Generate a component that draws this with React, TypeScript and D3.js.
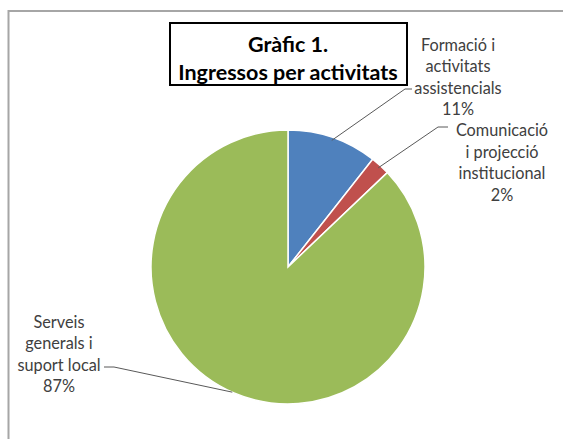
import React from "react";
import * as d3 from "d3";

const categories = [
  ["Formació i", "activitats", "assistencials", "11%"],
  ["Comunicació", "i projecció", "institucional", "2%"],
  ["Serveis", "generals i", "suport local", "87%"],
];
const values = [10.6, 2.3, 87.1];
const colors = ["#4F81BD", "#C0504D", "#9BBB59"];
const titleLines = ["Gràfic 1.", "Ingressos per activitats"];

const W = 563;
const H = 439;
const cx = 288;
const cy = 267;
const R = 137;

const labelPos = [
  { x: 458, y: 44, lx: 412, ly: 89, ex: 405, dy: 21.5 },
  { x: 502, y: 129.5, lx: 448, ly: 127, ex: 438, dy: 21.5 },
  { x: 59, y: 321, lx: 104, ly: 367, ex: 114, dy: 21.5 },
];

export default function App() {
  const pie = d3.pie<number>().sort(null).startAngle(0).endAngle(2 * Math.PI);
  const arcs = pie(values);
  const arc = d3.arc<d3.PieArcDatum<number>>().innerRadius(0).outerRadius(R);
  const font = "Lato, 'Open Sans', sans-serif";
  return (
    <svg width={W} height={H} style={{ position: "absolute", left: 0, top: 0 }}>
      <rect x={0} y={0} width={W} height={H} fill="#fff" />
      <rect x={8.5} y={11} width={W + 20} height={H + 20} fill="none" stroke="#a6a6a6" strokeWidth={2} />
      <g transform={`translate(${cx},${cy})`}>
        {arcs.map((a, i) => (
          <path key={i} d={arc(a) || ""} fill={colors[i]} stroke="#fff" strokeWidth={1.5} />
        ))}
      </g>
      {arcs.map((a, i) => {
        const mid = (a.startAngle + a.endAngle) / 2;
        const p = labelPos[i];
        let sx: number, sy: number;
        if (i === 2) {
          const ang = (204 * Math.PI) / 180;
          sx = cx + R * Math.sin(ang);
          sy = cy - R * Math.cos(ang);
        } else {
          sx = cx + (R - 3) * Math.sin(mid);
          sy = cy - (R - 3) * Math.cos(mid);
        }
        return (
          <g key={i}>
            <polyline
              points={`${sx},${sy} ${p.ex},${p.ly} ${p.lx},${p.ly}`}
              fill="none"
              stroke="#595959"
              strokeWidth={1}
            />
            {categories[i].map((t, j) => (
              <text
                key={j}
                x={p.x}
                y={p.y + j * p.dy}
                textAnchor="middle"
                dominantBaseline="central"
                fontFamily={font}
                fontSize={16.3}
                fill="#404040"
              >
                {t}
              </text>
            ))}
          </g>
        );
      })}
      <rect x={170} y={23} width={237} height={62} fill="#fff" stroke="#000" strokeWidth={2} />
      {titleLines.map((t, j) => (
        <text
          key={j}
          x={288}
          y={44 + j * 28}
          textAnchor="middle"
          dominantBaseline="central"
          fontFamily={font}
          fontWeight="bold"
          fontSize={21.5}
          fill="#000"
        >
          {t}
        </text>
      ))}
    </svg>
  );
}
